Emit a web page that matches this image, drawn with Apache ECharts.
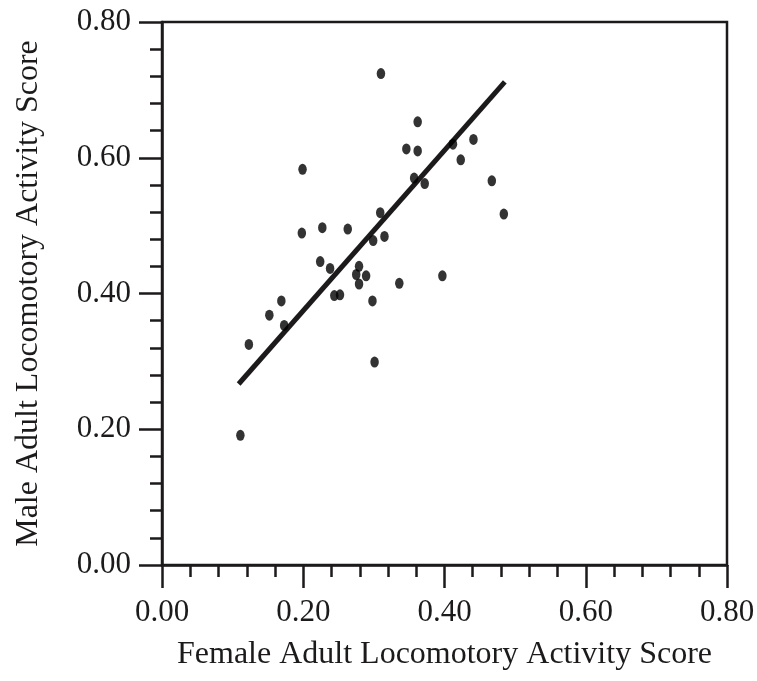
<!DOCTYPE html>
<html>
<head>
<meta charset="utf-8">
<script src="https://cdn.jsdelivr.net/npm/echarts@6/dist/echarts.min.js"></script>
<style>
  html, body { margin: 0; padding: 0; background: #fff; }
  #chart { width: 757px; height: 681px; }
</style>
</head>
<body>
<div id="chart"></div>
<script>
// female score (x), male score (y) per strain
var femaleScores = [0.310, 0.362, 0.346, 0.362, 0.412, 0.441, 0.423, 0.199, 0.357, 0.372,
  0.467, 0.484, 0.309, 0.198, 0.227, 0.263, 0.299, 0.315, 0.224, 0.238,
  0.279, 0.275, 0.289, 0.279, 0.336, 0.397, 0.244, 0.252, 0.298, 0.169,
  0.152, 0.173, 0.123, 0.301, 0.111];
var maleScores = [0.724, 0.653, 0.613, 0.610, 0.620, 0.627, 0.597, 0.583, 0.570, 0.562,
  0.566, 0.517, 0.519, 0.489, 0.497, 0.495, 0.478, 0.484, 0.447, 0.437,
  0.440, 0.428, 0.426, 0.414, 0.415, 0.426, 0.397, 0.398, 0.389, 0.389,
  0.368, 0.353, 0.325, 0.299, 0.191];
// regression line end points
var fitX = [0.1085, 0.4854];
var fitY = [0.2667, 0.7118];
var tickValues = [0, 0.2, 0.4, 0.6, 0.8];

var mychart = echarts.init(document.getElementById("chart"));
var ink = "#1c1a1b";
var points = femaleScores.map(function (x, i) { return [x, maleScores[i]]; });
var fitLine = fitX.map(function (x, i) { return [x, fitY[i]]; });

function axisCommon(name) {
  return {
    type: "value",
    min: tickValues[0],
    max: tickValues[tickValues.length - 1],
    interval: 0.2,
    name: name,
    nameLocation: "middle",
    nameTextStyle: { fontFamily: "Liberation Serif", fontSize: 32, color: ink },
    axisLine: { show: true, lineStyle: { color: ink, width: 2.5 } },
    axisTick: { show: true, length: 23, lineStyle: { color: ink, width: 2.5 } },
    minorTick: { show: true, splitNumber: 5, length: 12, lineStyle: { color: ink, width: 2.5 } },
    splitLine: { show: false },
    axisLabel: {
      fontFamily: "Liberation Serif",
      fontSize: 31,
      color: ink,
      formatter: function (v) { return v.toFixed(2); },
    },
  };
}

var xAxis = axisCommon("Female Adult Locomotory Activity Score");
xAxis.nameGap = 74;
xAxis.axisLabel.margin = 32;
var yAxis = axisCommon("Male Adult Locomotory Activity Score");
yAxis.nameGap = 117;
yAxis.axisLabel.margin = 31;

var option = {
  animation: false,
  grid: {
    show: true,
    left: 162,
    right: 30,
    top: 22,
    bottom: 116,
    outerBoundsMode: "none",
    containLabel: false,
    borderColor: ink,
    borderWidth: 2.5,
    backgroundColor: "transparent",
  },
  xAxis: xAxis,
  yAxis: yAxis,
  series: [
    {
      type: "line",
      data: fitLine,
      symbol: "none",
      lineStyle: { color: ink, width: 5 },
      z: 2,
    },
    {
      type: "scatter",
      data: points,
      symbol: "circle",
      symbolSize: [8.5, 11],
      itemStyle: { color: "#000" },
      z: 3,
    },
  ],
};
mychart.setOption(option);
</script>
</body>
</html>
